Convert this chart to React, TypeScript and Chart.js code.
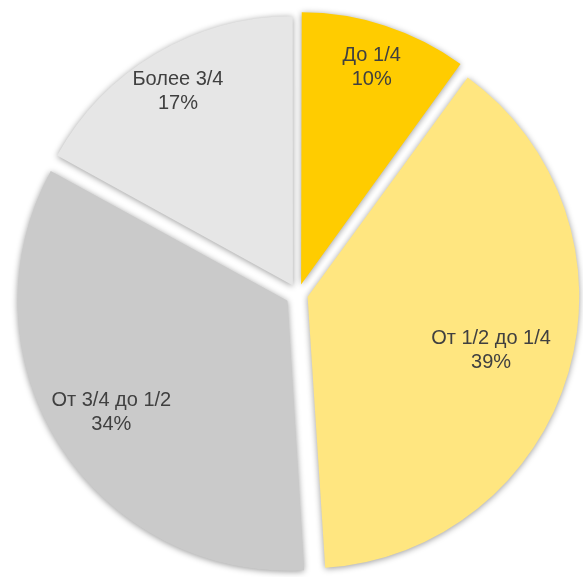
import React, { useEffect, useRef } from "react";
import { Chart, registerables } from "chart.js";

Chart.register(...registerables);

const categories = ["До 1/4", "От 1/2 до 1/4", "От 3/4 до 1/2", "Более 3/4"];
const values = [10, 39, 34, 17];
const colors = ["#FFCC00", "#FFE680", "#CACACA", "#E6E6E6"];

const labelDistance = [0.89, 0.75, 0.825, 0.88];
const sliceOffsets = [40, 40, 50, 40];

const shadowPlugin = {
  id: "sliceShadow",
  beforeDatasetsDraw(chart: any) {
    const ctx = chart.ctx;
    ctx.save();
    ctx.shadowColor = "rgba(0,0,0,0.4)";
    ctx.shadowBlur = 6;
    ctx.shadowOffsetX = 0;
    ctx.shadowOffsetY = 1;
  },
  afterDatasetsDraw(chart: any) {
    chart.ctx.restore();
  },
};

const labelPlugin = {
  id: "sliceLabels",
  afterDatasetsDraw(chart: any) {
    const ctx = chart.ctx;
    const meta = chart.getDatasetMeta(0);
    const total = values.reduce((a, b) => a + b, 0);
    ctx.save();
    ctx.fillStyle = "#404040";
    ctx.font = '20px "Liberation Sans", Arial, sans-serif';
    ctx.textAlign = "center";
    ctx.textBaseline = "middle";
    meta.data.forEach((arc: any, i: number) => {
      const p = arc.getProps(["x", "y", "startAngle", "endAngle", "outerRadius"], true);
      const mid = (p.startAngle + p.endAngle) / 2;
      const d = p.outerRadius * labelDistance[i];
      const cx = p.x + Math.cos(mid) * d;
      const cy = p.y + Math.sin(mid) * d;
      const pct = Math.round((values[i] / total) * 100) + "%";
      ctx.fillText(categories[i], cx, cy - 12);
      ctx.fillText(pct, cx, cy + 12);
    });
    ctx.restore();
  },
};

export default function App() {
  const ref = useRef<HTMLCanvasElement | null>(null);
  useEffect(() => {
    if (!ref.current) return;
    const chart = new Chart(ref.current, {
      type: "pie",
      data: {
        labels: categories,
        datasets: [
          {
            data: values,
            backgroundColor: colors,
            borderWidth: 0,
            offset: sliceOffsets,
            radius: 268,
          } as any,
        ],
      },
      options: {
        responsive: false,
        animation: false,
        layout: { padding: { left: 13, top: 11, right: 0, bottom: 0 } },
        plugins: {
          legend: { display: false },
          tooltip: { enabled: false },
        },
        events: [],
      },
      plugins: [shadowPlugin, labelPlugin],
    });
    return () => chart.destroy();
  }, []);
  return (
    <canvas
      ref={ref}
      width={583}
      height={577}
      style={{ position: "fixed", left: 0, top: 0, display: "block", background: "#fff" }}
    />
  );
}
